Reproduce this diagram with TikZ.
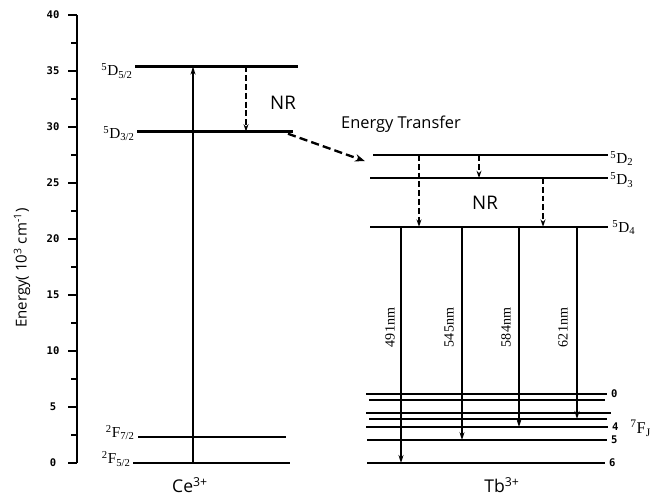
\documentclass[tikz,border=0pt]{standalone}
\usepackage{fontspec}
\setmainfont{Liberation Serif}
\newfontfamily\sansfont{Open Sans}
\newfontfamily\tickfont{DejaVu Sans Mono}
\usetikzlibrary{positioning, calc, arrows.meta}

\begin{document}
\begin{tikzpicture}[
  x=0.03cm, y=0.336cm,
  level/.style={line width=1.8pt},
  axisline/.style={line width=1.7pt},
  emit/.style={line width=1.5pt, -{Stealth[length=2.4mm, width=1.5mm]}},
  nrarrow/.style={line width=1.5pt, dash pattern=on 5pt off 2.5pt,
    -{Stealth[length=2.2mm, width=1.5mm]}},
  transfer/.style={line width=2pt, dash pattern=on 7pt off 3.5pt,
    -{Stealth[length=3mm, width=2.2mm]}},
  term/.style={font=\fontsize{13}{13}\selectfont, inner sep=1pt},
  sanslabel/.style={font=\sansfont\fontsize{13}{13}\selectfont},
  ticklabel/.style={font=\tickfont\bfseries\fontsize{9}{9}\selectfont},
  wave/.style={font=\fontsize{12}{12}\selectfont, rotate=90}
]
  \useasboundingbox (0,-2.946) rectangle (651,41.34);

  % energy axis
  \draw[axisline] (77,0) -- (77,40);
  \foreach \e in {0,5,...,40} {
    \draw[axisline] (68,\e) -- (77,\e);
    \node[ticklabel] (t\e) at (53,\e) {\e};
  }
  \foreach \e in {2.5,7.5,...,37.5}
    \draw[axisline] (71,\e) -- (77,\e);
  \node[sanslabel, rotate=90, font=\sansfont\fontsize{12.8}{12.8}\selectfont] (ylabel) at (22,17.4)
    {Energy( 10\textsuperscript{3} cm\textsuperscript{-1})};

  % Ce3+ levels
  \draw[level] (135,35.4) coordinate (ceD52) -- (298,35.4);
  \draw[level] (137,29.6) coordinate (ceD32) -- (293,29.6);
  \draw[level] (138,2.3) coordinate (ceF72) -- (286,2.3);
  \draw[level] (133,0) coordinate (ceF52) -- (290,0);
  \node[term, anchor=east] (lD52) at (134,35.0) {\textsuperscript{5}D\textsubscript{5/2}};
  \node[term, anchor=east] (lD32) at (136,29.4) {\textsuperscript{5}D\textsubscript{3/2}};
  \node[term, anchor=east] (lF72) at (136,2.7) {\textsuperscript{2}F\textsubscript{7/2}};
  \node[term, anchor=east] (lF52) at (132,0.36) {\textsuperscript{2}F\textsubscript{5/2}};

  \draw[emit] (193,0 |- ceF52) -- (193,0 |- ceD52);
  \draw[nrarrow] (246,0 |- ceD52) -- (246,0 |- ceD32);
  \node[sanslabel, font=\sansfont\fontsize{16}{16}\selectfont] (nrce) at (283,32.2) {NR};

  % energy transfer
  \coordinate (etstart) at (288,29.4);
  \coordinate (etend) at (365,26.95);
  \draw[transfer] (etstart) -- (etend);
  \node[sanslabel, font=\sansfont\fontsize{14}{14}\selectfont] (et) at (401,30.27) {Energy Transfer};

  % Tb3+ levels
  \draw[level] (373,27.5) coordinate (tbD2) -- (608,27.5) coordinate (tbD2r);
  \draw[level] (370,25.45) coordinate (tbD3) -- (608,25.45) coordinate (tbD3r);
  \draw[level] (370,21.1) coordinate (tbD4) -- (608,21.1) coordinate (tbD4r);
  \node[term, anchor=west] (lD2) at (609,27.2) {\textsuperscript{5}D\textsubscript{2}};
  \node[term, anchor=west] (lD3) at (609,25.27) {\textsuperscript{5}D\textsubscript{3}};
  \node[term, anchor=west] (lD4) at (611,21.0) {\textsuperscript{5}D\textsubscript{4}};

  \foreach \lv/\e/\xa/\xb in {0/6.16/366/607, 1/5.63/369/605, 2/4.46/366/611,
      3/3.93/369/607, 4/3.21/366/608, 5/2.05/367/607, 6/0/367/605}
    \draw[level] (\xa,\e) coordinate (tbF\lv) -- (\xb,\e) coordinate (tbF\lv r);
  \foreach \lv in {0,4,5,6}
    \node[ticklabel, right=0pt of tbF\lv r] (n\lv) {\lv};
  \node[term, anchor=west, font=\fontsize{14}{14}\selectfont] (lFJ) at (629,3.1) {\textsuperscript{7}F\textsubscript{J}};

  \draw[nrarrow] (419,0 |- tbD2) -- (419,0 |- tbD4);
  \draw[nrarrow] (479,0 |- tbD2) -- (479,0 |- tbD3);
  \draw[nrarrow] (543,0 |- tbD3) -- (543,0 |- tbD4);
  \node[sanslabel, font=\sansfont\fontsize{16}{16}\selectfont] (nrtb) at (485,23.2) {NR};

  % emissions from 5D4
  \draw[emit] (401,0 |- tbD4) -- (401,0 |- tbF6);
  \draw[emit] (462,0 |- tbD4) -- (462,0 |- tbF5);
  \draw[emit] (519,0 |- tbD4) -- (519,0 |- tbF4);
  \draw[emit] (577,0 |- tbD4) -- (577,0 |- tbF3);
  \node[wave] (w491) at (390,12.1) {491nm};
  \node[wave] (w545) at (449,12.1) {545nm};
  \node[wave] (w584) at (506,12.1) {584nm};
  \node[wave] (w621) at (563,12.1) {621nm};

  \node[sanslabel, inner sep=0pt, font=\sansfont\fontsize{15}{15}\selectfont] (ce) at (190,-1.95) {Ce\textsuperscript{3+}};
  \node[sanslabel, inner sep=0pt, font=\sansfont\fontsize{15}{15}\selectfont] (tb) at (502,-1.95) {Tb\textsuperscript{3+}};
\end{tikzpicture}
\end{document}
